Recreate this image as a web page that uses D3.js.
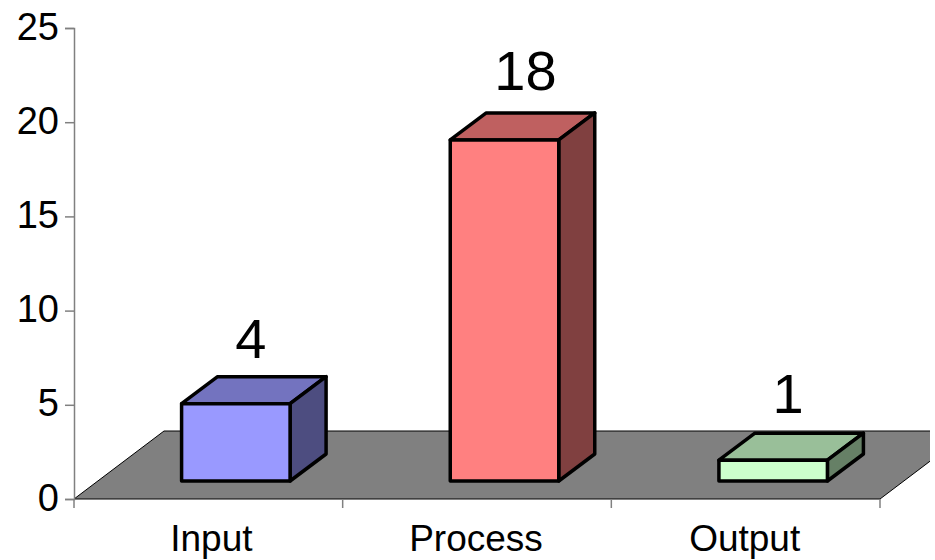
<!DOCTYPE html>
<html lang="en">
  <head>
    <meta charset="utf-8">
    <title>Input Process Output</title>
    <script type="text/javascript" src="https://d3js.org/d3.v7.min.js"></script>
    <style type="text/css">
      html, body { margin: 0; padding: 0; background: #fff; overflow: hidden; }
      svg { display: block; }
      text { font-family: "Liberation Sans", Arial, sans-serif; fill: #000; }
    </style>
  </head>
  <body>
    <div id="placeHere"></div>
    <script type="text/javascript">
      // data
      var categories = ["Input", "Process", "Output"];
      var values = [4, 18, 1];
      var yTicks = [0, 5, 10, 15, 20, 25];

      var frontColors = ["#9999ff", "#ff8080", "#ccffcc"];
      var topColors = ["#7373bf", "#bf6060", "#99bf99"];
      var sideColors = ["#4d4d80", "#804040", "#668066"];

      // nudges for the labels, the original placed them by hand
      var labelDx = [0, 6, 0];
      var labelDy = [-1, -5, -2];
      var catDx = [3, -1, -1];

      //width and height
      var w = 935;
      var h = 560;
      var clipRight = 930;

      // 3d offsets
      var floorDx = 90, floorDy = 68;
      var barDx = 36, barDy = 27;
      var barLift = 18;   // bars stand inside the floor
      var barExtra = 2;   // excel draws them a bit taller
      var barShift = 27.5;

      var svg = d3.select("#placeHere")
                  .append("svg")
                  .attr("width", w)
                  .attr("height", h);

      //create scales
      var xScale = d3.scaleBand()
                     .domain(categories)
                     .range([74, 880])
                     .paddingInner(0);

      var yScale = d3.scaleLinear()
                     .domain([0, 25])
                     .range([499, 28]);

      var barW = 108.5;
      var y0 = yScale(0);
      var x0 = xScale.range()[0];
      var x1 = xScale.range()[1];

      //floor
      svg.append("clipPath")
         .attr("id", "plotClip")
         .append("rect")
         .attr("x", 0)
         .attr("y", 0)
         .attr("width", clipRight)
         .attr("height", h);

      svg.append("polygon")
         .attr("clip-path", "url(#plotClip)")
         .attr("points", [
           [x0, y0],
           [x0 + floorDx, y0 - floorDy],
           [x1 + floorDx, y0 - floorDy],
           [x1, y0]
         ].join(" "))
         .attr("fill", "#808080")
         .attr("stroke", "#000")
         .attr("stroke-width", 1);

      //axes
      var yAxis = d3.axisLeft(yScale)
                    .tickValues(yTicks)
                    .tickSize(9)
                    .tickPadding(6)
                    .tickFormat(d3.format("d"));

      var gy = svg.append("g")
                  .attr("transform", "translate(" + x0 + ",0)")
                  .call(yAxis);
      gy.selectAll("path, line")
        .attr("stroke", "#808080")
        .attr("stroke-width", 1.5);
      gy.attr("font-family", null);
      gy.selectAll("text")
        .attr("font-size", "38px")
        .attr("y", -1);

      var xAxis = d3.axisBottom(xScale)
                    .tickSize(0)
                    .tickPadding(26);

      var gx = svg.append("g")
                  .attr("transform", "translate(0," + y0 + ")")
                  .call(xAxis);
      gx.select("path").remove();
      gx.attr("font-family", null);
      gx.selectAll("text")
        .attr("font-size", "37px")
        .attr("dx", function(d, i) { return catDx[i]; });

      // x ticks sit on the category borders
      svg.selectAll("line.xtick")
         .data(categories.map(function(d) { return xScale(d); }).concat([x1]))
         .enter()
         .append("line")
         .attr("class", "xtick")
         .attr("x1", function(d) { return d; })
         .attr("x2", function(d) { return d; })
         .attr("y1", y0)
         .attr("y2", y0 + 9)
         .attr("stroke", "#808080")
         .attr("stroke-width", 1.5);

      //bars
      var bars = svg.selectAll("g.bar")
                    .data(values)
                    .enter()
                    .append("g")
                    .attr("class", "bar")
                    .attr("stroke", "#000")
                    .attr("stroke-width", 3.5)
                    .attr("stroke-linejoin", "round");

      function barLeft(i) {
        return xScale(categories[i]) + xScale.bandwidth() / 2 + barShift - barW / 2;
      }
      function barTop(d) {
        return yScale(d) - barLift - barExtra;
      }
      var barBottom = y0 - barLift;

      bars.append("polygon")
          .attr("fill", function(d, i) { return topColors[i]; })
          .attr("points", function(d, i) {
            var l = barLeft(i), t = barTop(d);
            return [[l, t], [l + barDx, t - barDy], [l + barW + barDx, t - barDy], [l + barW, t]].join(" ");
          });

      bars.append("polygon")
          .attr("fill", function(d, i) { return sideColors[i]; })
          .attr("points", function(d, i) {
            var r = barLeft(i) + barW, t = barTop(d);
            return [[r, t], [r + barDx, t - barDy], [r + barDx, barBottom - barDy], [r, barBottom]].join(" ");
          });

      bars.append("rect")
          .attr("fill", function(d, i) { return frontColors[i]; })
          .attr("x", function(d, i) { return barLeft(i); })
          .attr("y", function(d) { return barTop(d); })
          .attr("width", barW)
          .attr("height", function(d) { return barBottom - barTop(d); });

      //value labels
      svg.selectAll("text.value")
         .data(values)
         .enter()
         .append("text")
         .attr("class", "value")
         .text(function(d) { return d; })
         .attr("text-anchor", "middle")
         .attr("font-size", "56px")
         .attr("x", function(d, i) { return barLeft(i) + barW / 2 + 15 + labelDx[i]; })
         .attr("y", function(d, i) { return barTop(d) - 45 + labelDy[i]; });
    </script>
  </body>
</html>
